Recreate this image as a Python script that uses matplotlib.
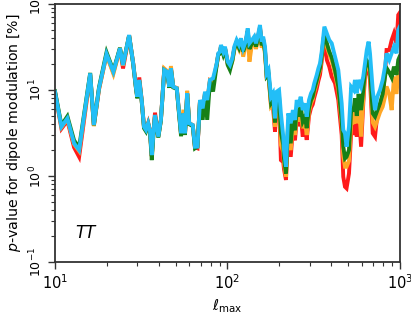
import numpy as np
import matplotlib
matplotlib.use("Agg")
import matplotlib.pyplot as plt

# multipole cut-off values (x axis)
ell_max = [10, 10.9, 11.8, 12.9, 13.8, 16.0, 16.8, 18.0, 19.9, 21.8,
           23.8, 24.8, 26.9, 28.4, 29.5, 30.0, 30.8, 31.8, 32.8, 33.7,
           34.7, 35.5, 36.4, 37.2, 38.0, 39.7, 41.1, 43.0, 44.7, 46.0,
           47.0, 48.5, 50.8, 52.0, 53.8, 55.5, 56.7, 58.4, 60.0, 62.9,
           64.8, 67.0, 69.3, 71.8, 74.1, 76.3, 79.1, 82.5, 86.6, 88.4,
           90.5, 91.7, 94.5, 96.7, 100.3, 103.4, 106.7, 109.5, 113, 116.6,
           119.7, 123.3, 127.3, 131, 134, 138.6, 142.9, 146.3, 150.9, 154.3,
           157.8, 161, 165, 168.7, 172.9, 178.7, 183.5, 188.6, 192.7, 199,
           204, 210.6, 212.6, 218.3, 225.2, 232.6, 239.5, 246.2, 252, 257.6,
           265.7, 273, 281.4, 287.9, 296.9, 305, 312, 318.6, 328.9, 336.6,
           343.8, 351.7, 359.3, 364.4, 376.6, 389.1, 402, 420, 438.9, 459.2,
           469, 479.9, 490, 506.2, 521, 538.5, 548.3, 561.7, 575.5, 595,
           612.5, 626.8, 642, 657.8, 670, 694.9, 716.6, 738.9, 765.6, 793.8,
           818.8, 836, 866.9, 895, 923, 955, 977, 1000]

# p-values in percent, one list per curve
p_blue = [9.5, 3.74, 4.69, 2.4, 2.0, 15.6, 3.92, 10.5, 26.2, 16.3,
          30.5, 19.5, 43.6, 20.4, 10.5, 8.35, 13.1, 7.65, 3.74, 3.43,
          4.10, 3.43, 1.75, 3.14, 5.12, 2.87, 4.48, 17.1, 16.3, 10.9,
          17.9, 10.9, 10.5, 6.40, 3.14, 5.36, 3.14, 9.16, 4.10, 3.92,
          2.19, 2.2, 7.65, 6.12, 9.55, 7.65, 13.1, 13.7, 20.4, 26.7,
          27.9, 33.4, 27.9, 31.9, 21.3, 19.5, 23.4, 31.9, 38.1, 33.4,
          39.9, 30.5, 36.5, 52.1, 34.9, 38.1, 41.7, 34.9, 45.6, 57.0,
          36.5, 41.7, 31.9, 15.6, 17.1, 8.35, 9.16, 4.69, 9.55, 10.0,
          5.36, 2.87, 2.0, 1.28, 5.36, 4.10, 5.84, 4.48, 7.65, 6.40,
          8.35, 5.84, 7.0, 4.90, 7.65, 9.16, 10.0, 12.0, 14.9, 17.9,
          20.4, 27.9, 41.7, 54.5, 45.6, 38.1, 34.9, 24.4, 17.1, 7.0,
          3.43, 3.14, 2.19, 3.74, 10.9, 10.0, 13.1, 9.16, 13.1, 10.9,
          14.3, 20.4, 29.2, 36.5, 26.7, 10.0, 5.84, 8.35, 10.0, 13.1,
          18.7, 26.7, 22.4, 26.7, 31.9, 26.7, 49.9, 55]

p_green = [9.7, 3.9, 4.95, 2.6, 2.15, 15.8, 3.9, 10.8, 27.5, 16.8,
           31.0, 19.8, 43.0, 20.0, 10.2, 8.0, 12.8, 7.5, 3.6, 3.3,
           4.0, 3.3, 1.53, 3.0, 5.0, 2.8, 4.4, 17.0, 16.0, 10.6,
           17.6, 10.7, 10.3, 6.1, 2.9, 5.3, 3.0, 9.0, 4.0, 3.8,
           2.1, 2.2, 7.5, 4.5, 9.0, 4.5, 12.5, 9.6, 19.5, 25.5,
           26.5, 32.0, 26.0, 30.5, 19.5, 17.1, 22.0, 30.0, 36.0, 31.0,
           37.5, 28.0, 34.0, 48.0, 30.0, 35.0, 39.0, 32.0, 42.0, 52.0,
           33.0, 38.0, 28.0, 14.5, 15.5, 7.2, 8.0, 4.2, 8.2, 8.5,
           3.2, 2.3, 1.6, 1.07, 4.4, 2.4, 4.6, 3.4, 6.0, 4.9,
           6.6, 4.3, 4.9, 3.6, 6.2, 7.6, 8.4, 10.2, 12.8, 15.5,
           18.0, 25.0, 38.0, 45.0, 35.0, 28.0, 24.0, 17.0, 11.0, 4.5,
           2.2, 1.6, 1.67, 2.0, 5.84, 5.84, 8.0, 5.0, 9.0, 5.84,
           10.0, 17.0, 22.0, 20.4, 18.0, 5.36, 4.9, 5.8, 7.0, 9.0,
           14.3, 18.0, 16.0, 14.0, 18.7, 15.0, 22.4, 25]

p_orange = [9.5, 3.7, 4.6, 2.35, 1.95, 15.2, 3.8, 10.3, 25.5, 15.4,
            30.0, 19.2, 43.0, 20.2, 10.4, 8.3, 13.0, 7.6, 3.7, 3.4,
            4.1, 3.4, 1.7, 3.1, 5.1, 2.85, 4.4, 17.8, 16.6, 10.8,
            19.0, 10.8, 10.6, 6.3, 3.1, 5.9, 3.1, 9.8, 4.1, 3.9,
            2.15, 2.2, 7.6, 5.6, 9.4, 7.2, 13.0, 12.5, 20.0, 25.5,
            26.8, 32.0, 26.5, 30.5, 20.0, 18.0, 21.5, 29.0, 35.0, 30.0,
            36.5, 24.4, 33.0, 46.0, 21.3, 34.0, 38.0, 30.0, 40.0, 50.0,
            31.0, 36.0, 26.0, 14.0, 14.5, 6.5, 7.0, 3.74, 7.5, 7.8,
            2.3, 1.9, 1.4, 0.98, 3.8, 2.0, 4.0, 3.0, 5.3, 4.3,
            5.8, 3.6, 4.3, 3.0, 5.6, 7.0, 7.8, 9.5, 12.0, 14.8,
            17.2, 24.0, 36.0, 42.0, 32.0, 26.0, 22.0, 15.5, 10.0, 4.0,
            1.7, 1.28, 1.28, 1.5, 4.0, 4.2, 6.0, 4.1, 7.0, 2.87,
            8.0, 16.0, 20.0, 19.0, 16.0, 4.2, 3.74, 4.48, 5.5, 6.4,
            8.35, 11.0, 9.0, 5.84, 14.3, 9.0, 15.6, 18]

p_red = [9.4, 3.55, 4.4, 2.15, 1.67, 15.0, 3.85, 10.2, 25.8, 16.0,
         30.2, 17.8, 43.0, 20.6, 10.6, 8.4, 14.0, 7.7, 3.8, 3.45,
         4.15, 3.4, 1.72, 3.2, 5.45, 2.9, 4.5, 17.3, 16.2, 10.9,
         18.0, 10.9, 10.5, 6.4, 3.1, 5.5, 3.1, 9.2, 4.1, 3.9,
         2.15, 2.1, 7.6, 4.9, 9.3, 7.0, 12.8, 12.0, 19.8, 26.0,
         27.0, 32.5, 27.0, 31.0, 20.5, 18.5, 22.5, 30.5, 36.5, 32.0,
         38.0, 27.5, 35.0, 49.0, 28.0, 36.0, 40.0, 33.0, 43.0, 54.0,
         34.0, 39.0, 29.0, 14.8, 15.0, 6.8, 6.5, 3.27, 7.2, 7.5,
         1.53, 1.45, 1.2, 0.9, 3.4, 1.67, 3.5, 2.6, 4.7, 3.8,
         5.2, 2.87, 3.74, 2.63, 5.0, 6.2, 6.8, 8.2, 10.3, 12.8,
         15.0, 21.5, 33.0, 38.1, 22.4, 18.7, 14.3, 12.0, 7.65, 3.0,
         0.98, 0.75, 0.72, 1.07, 3.14, 3.14, 5.0, 2.87, 6.0, 2.19,
         7.0, 14.3, 18.7, 17.1, 13.1, 3.14, 2.87, 5.2, 6.0, 8.0,
         16.0, 29.2, 29.2, 38.1, 45.6, 35.0, 74.5, 80]

series = [(p_red, "#ff1a1a"), (p_orange, "#ffa726"),
          (p_green, "#178017"), (p_blue, "#22bef7")]

fig = plt.figure(figsize=(4.11, 3.13), dpi=100)
ax = fig.add_axes([0.1338, 0.1629, 0.8394, 0.8243])

for vals, col in series:
    ax.plot(ell_max, vals, color=col, lw=2.8, solid_joinstyle="miter")

ax.set_xscale("log")
ax.set_yscale("log")
ax.set_xlim(10, 1000)
ax.set_ylim(0.1, 100)

for s in ax.spines.values():
    s.set_color("#333333")
    s.set_linewidth(1.3)
ax.tick_params(which="both", direction="out", top=False, right=False, colors="#333333", labelcolor="black")
ax.tick_params(which="major", length=5, width=1)
ax.tick_params(which="minor", length=3, width=0.8)
ax.tick_params(axis="x", labelsize=10.5, pad=3)
ax.tick_params(axis="y", labelsize=9, pad=3)
for lab in ax.get_yticklabels():
    lab.set_rotation(90)
    lab.set_va("center")

ax.set_ylabel(r"$p$-value for dipole modulation [%]", fontsize=10.2, labelpad=3)
ax.set_xlabel(r"$\ell_{\mathrm{max}}$", fontsize=10.5, labelpad=4)
ax.text(0.058, 0.093, "TT", style="italic", fontsize=12, transform=ax.transAxes)

fig.savefig("out.png", dpi=100)
